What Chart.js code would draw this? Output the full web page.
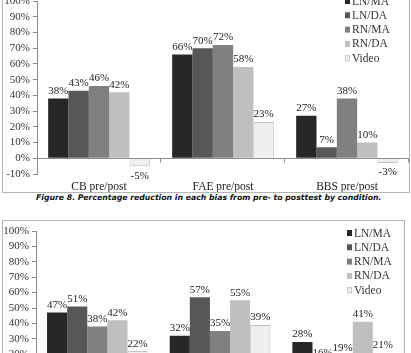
<!DOCTYPE html>
<html>
<head>
<meta charset="utf-8">
<script src="https://cdn.jsdelivr.net/npm/chart.js@4.4.1/dist/chart.umd.min.js"></script>
<style>
html, body { margin: 0; padding: 0; background: #fff; width: 411px; height: 353px; overflow: hidden; position: relative; }
.box { position: absolute; border: 1px solid #b4b4b4; background: #fff; }
#box1 { left: 2px; top: -12px; width: 406px; height: 203px; }
#box2 { left: 2px; top: 220px; width: 401px; height: 182px; }
canvas { display: block; }
#cap { position: absolute; left: 36px; top: 193px; white-space: nowrap; font: italic bold 7.75px "DejaVu Sans"; color: #111; }
</style>
</head>
<body>
<div class="box" id="box1"><canvas id="chart1" width="406" height="203"></canvas></div>
<div id="cap">Figure 8. Percentage reduction in each bias from pre- to posttest by condition.</div>
<div class="box" id="box2"><canvas id="chart2" width="401" height="182"></canvas></div>
<script>
	'use strict';

	// categories and series
	var categories = ['CB pre/post', 'FAE pre/post', 'BBS pre/post'];
	var conditions = ['LN/MA', 'LN/DA', 'RN/MA', 'RN/DA', 'Video'];

	// Figure 8
	var fig8LNMA = [38, 66, 27];
	var fig8LNDA = [43, 70, 7];
	var fig8RNMA = [46, 72, 38];
	var fig8RNDA = [42, 58, 10];
	var fig8Video = [-5, 23, -3];

	// lower figure (cut off at the bottom of the page)
	var lowLNMA = [47, 32, 28];
	var lowLNDA = [51, 57, 16];
	var lowRNMA = [38, 35, 19];
	var lowRNDA = [42, 55, 41];
	var lowVideo = [22, 39, 21];

	var fills = ['#272727', '#575757', '#808080', '#bfbfbf', '#efefef'];
	var serif = '"Liberation Serif", "Times New Roman", serif';

	Chart.defaults.font.family = serif;
	Chart.defaults.color = '#222';

	// value labels above / below bars
	var barText = {
		id: 'barText',
		afterDatasetsDraw: function (chart) {
			var ctx = chart.ctx;
			ctx.save();
			ctx.font = '11px ' + serif;
			ctx.fillStyle = '#222';
			ctx.textAlign = 'center';
			chart.data.datasets.forEach(function (ds, i) {
				chart.getDatasetMeta(i).data.forEach(function (bar, j) {
					var v = ds.data[j];
					if (v < 0) {
						ctx.textBaseline = 'top';
						ctx.fillText(v + '%', bar.x, bar.y + 4);
					} else {
						ctx.textBaseline = 'bottom';
						ctx.fillText(v + '%', bar.x, bar.y - 2);
					}
				});
			});
			ctx.restore();
		}
	};

	// horizontal axis at 0 with category ticks
	var zeroLine = {
		id: 'zeroLine',
		afterDatasetsDraw: function (chart) {
			var ctx = chart.ctx;
			var y = Math.round(chart.scales.y.getPixelForValue(0)) + 0.5;
			var a = chart.chartArea;
			var n = chart.data.labels.length;
			ctx.save();
			ctx.strokeStyle = '#8c8c8c';
			ctx.lineWidth = 1;
			ctx.beginPath();
			ctx.moveTo(a.left, y);
			ctx.lineTo(a.right, y);
			for (var k = 1; k <= n; k++) {
				var x = Math.round(a.left + k * (a.right - a.left) / n) - 0.5;
				ctx.moveTo(x, y);
				ctx.lineTo(x, y + 4);
			}
			ctx.stroke();
			ctx.restore();
		}
	};

	// legend drawn inside the plot, top right
	var boxLegend = {
		id: 'boxLegend',
		afterDraw: function (chart, args, opts) {
			var ctx = chart.ctx;
			ctx.save();
			ctx.font = '11.5px ' + serif;
			ctx.textBaseline = 'middle';
			ctx.textAlign = 'left';
			chart.data.datasets.forEach(function (ds, i) {
				var y = opts.top + i * 14.3;
				ctx.fillStyle = ds.backgroundColor;
				ctx.fillRect(opts.x, y - 3, 5, 6);
				if (i === 4) {
					ctx.strokeStyle = '#c8c8c8';
					ctx.strokeRect(opts.x + 0.5, y - 2.5, 4, 5);
				}
				ctx.fillStyle = '#333';
				ctx.fillText(ds.label, opts.x + 7, y + 0.5);
			});
			ctx.restore();
		}
	};

	function datasets(series) {
		return series.map(function (vals, i) {
			return {
				label: conditions[i],
				data: vals,
				backgroundColor: fills[i],
				borderColor: i === 4 ? '#c4c4c4' : fills[i],
				borderWidth: i === 4 ? 1 : 0,
				categoryPercentage: 0.82,
				barPercentage: 1.0
			};
		});
	}

	function makeChart(id, series, yMin, axisLeft, top, xHeight, legendX) {
		return new Chart(document.getElementById(id), {
			type: 'bar',
			data: {
				labels: categories,
				datasets: datasets(series)
			},
			plugins: [zeroLine, barText, boxLegend],
			options: {
				responsive: false,
				animation: false,
				events: [],
				layout: { padding: { left: 0, right: 0, top: top, bottom: 0 } },
				plugins: {
					legend: { display: false },
					tooltip: { enabled: false },
					boxLegend: { x: legendX, top: 12 }
				},
				scales: {
					x: {
						grid: { display: false, drawTicks: false, tickLength: 0 },
						border: { display: false },
						ticks: { padding: 6, font: { size: 11.5 }, color: '#222', maxRotation: 0 },
						afterFit: function (s) { s.height = xHeight; }
					},
					y: {
						min: yMin,
						max: 100,
						ticks: {
							stepSize: 10,
							autoSkip: false,
							padding: 3,
							font: { size: 11 },
							color: '#333',
							callback: function (v) { return v + '%'; }
						},
						grid: { drawOnChartArea: false, tickLength: 4, color: '#8c8c8c' },
						border: { color: '#8c8c8c' },
						afterFit: function (s) { s.width = axisLeft; }
					}
				}
			}
		});
	}

	makeChart('chart1', [fig8LNMA, fig8LNDA, fig8RNMA, fig8RNDA, fig8Video], -10, 34, 12, 18, 342);
	makeChart('chart2', [lowLNMA, lowLNDA, lowRNMA, lowRNDA, lowVideo], 0, 33, 10, 18, 344);
</script>
</body>
</html>
